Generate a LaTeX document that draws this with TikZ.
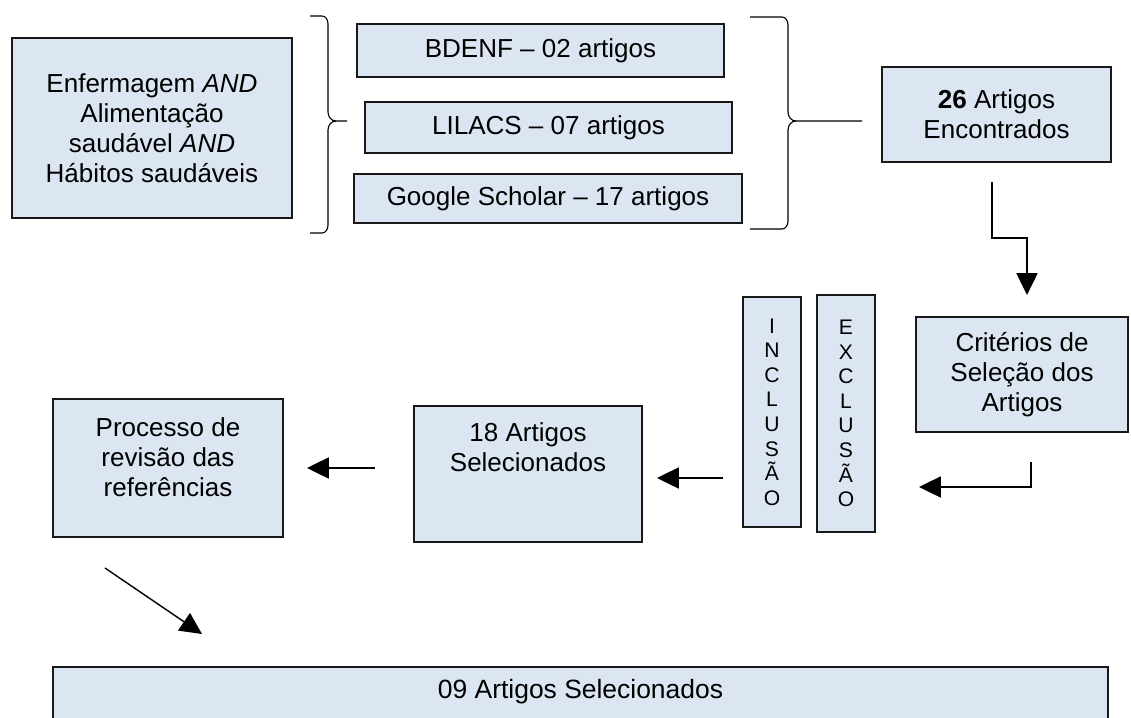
\documentclass[tikz,border=0pt]{standalone}
\usepackage{fontspec}
\setmainfont{Liberation Sans}
\usepackage{xcolor}
\usepackage{tikz}
\usetikzlibrary{arrows.meta,positioning}
\definecolor{boxblue}{HTML}{DCE6F2}
\tikzset{
	box/.style={draw=black!90, fill=boxblue, line width=1.1pt, align=center, inner sep=0pt, font=\fontsize{18.5}{21.3}\selectfont},
	vbox/.style={box, font=\fontsize{15}{17.5}\selectfont},
	txt/.style={align=center, inner sep=0pt, font=\fontsize{18.5}{21.3}\selectfont},
	arr/.style={line width=1pt, -{Triangle[length=15.5pt,width=15pt]}},
	brc/.style={line width=0.8pt}
}

\begin{document}
\begin{tikzpicture}[x=0.025cm, y=-0.025cm]
			\useasboundingbox (0,0) rectangle (1131,717);
			\begin{scope}
			\clip (0,0) rectangle (1131,717);
			\node [box, minimum width=26.375cm, minimum height=2.5cm] (final) at (580.5,717) {};
			\end{scope}
			\node [txt, font=\fontsize{18.8}{21.3}\selectfont] (finaltxt) at (580.5,692) {09 Artigos Selecionados};
			\node [box, minimum width=7cm, minimum height=4.5cm] (query) at (152,128) {Enfermagem \textit{AND}\\Alimentação\\saudável \textit{AND}\\Hábitos saudáveis};
			\node [box, minimum width=9.175cm, minimum height=1.325cm] (bdenf) at (540.5,50.5) {BDENF – 02 artigos};
			\node [box, minimum width=9.175cm, minimum height=1.275cm] (lilacs) at (548.5,127.5) {LILACS – 07 artigos};
			\node [box, minimum width=9.7cm, minimum height=1.225cm] (google) at (548,198.5) {Google Scholar – 17 artigos};
			\node [box, minimum width=5.725cm, minimum height=2.375cm] (found) at (996.5,114.5) {\textbf{26} Artigos\\Encontrados};
			\node [box, minimum width=5.3cm, minimum height=2.875cm] (crit) at (1022,374.5) {Critérios de\\Seleção dos\\Artigos};
			\node [vbox, minimum width=1.45cm, minimum height=5.75cm] (incl) at (772,412) {I\\N\\C\\L\\U\\S\\Ã\\O};
			\node [vbox, minimum width=1.45cm, minimum height=5.925cm] (excl) at (846,413.5) {E\\X\\C\\L\\U\\S\\Ã\\O};
			\node [box, minimum width=5.7cm, minimum height=3.4cm] (sel) at (528,474) {};
			\node [txt] (seltxt) at (528,447) {18 Artigos\\Selecionados};
			\node [box, minimum width=5.75cm, minimum height=3.45cm] (proc) at (168,468) {};
			\node [txt] (proctxt) at (168,457) {Processo de\\revisão das\\referências};
			\coordinate (foundout) at (992,182);
			\coordinate (critin) at (1027,295);
			\coordinate (critout) at (1031,462);
			\coordinate (exclin) at (919,487);
			\coordinate (inclout) at (723,478);
			\coordinate (selin) at (657,478);
			\coordinate (selout) at (375,468);
			\coordinate (procin) at (307,468);
			\coordinate (procout) at (105,568);
			\coordinate (finalin) at (202,634);
			\draw [arr] (foundout) -- ++(0,56) -| (critin);
			\draw [arr] (critout) |- (exclin);
			\draw [arr] (inclout) -- (selin);
			\draw [arr] (selout) -- (procin);
			\draw [arr] (procout) -- (finalin);
			\draw [brc] (310,16) -- (322,16) to [out=0, in=90] (328,24) -- (328,112) to [out=-90, in=180] (336,121) -- (347,121);
			\draw [brc] (336,121) to [out=180, in=90] (328,130) -- (328,225) to [out=-90, in=0] (322,233) -- (310,233);
			\draw [brc] (750,17) -- (782,17) to [out=0, in=90] (788,25) -- (788,112) to [out=-90, in=180] (796,121) -- (862,121);
			\draw [brc] (796,121) to [out=180, in=90] (788,130) -- (788,221) to [out=-90, in=0] (782,229) -- (750,229);
		\end{tikzpicture}
\end{document}
